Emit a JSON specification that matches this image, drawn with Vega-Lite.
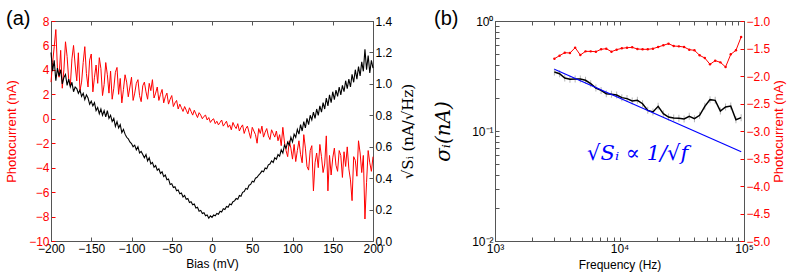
{
 "$schema": "https://vega.github.io/schema/vega-lite/v6.json",
 "padding": {"left": 5, "top": 8, "right": 5, "bottom": 5},
 "background": "white",
 "config": {
  "view": {"stroke": "#555", "strokeWidth": 1},
  "axis": {"grid": false, "labelFont": "Liberation Sans", "labelFontSize": 12, "labelColor": "#000", "titleFont": "Liberation Sans", "titleFontSize": 12, "titleFontWeight": "normal", "titleColor": "#000", "domainColor": "#555", "tickColor": "#555", "tickSize": -4, "labelPadding": 6, "titlePadding": 10, "labelFlush": false, "labelOverlap": false}
 },
 "spacing": 122,
 "bounds": "flush",
 "hconcat": [
  {
   "width": 322, "height": 220,
   "title": {"text": "(a)", "anchor": "start", "frame": "group", "fontSize": 20, "font": "Liberation Sans", "fontWeight": "normal", "dx": -45, "offset": -24, "baseline": "middle"},
   "data": {"values": [
{"b":-200,"p":3.0,"s":1.20},{"b":-198,"p":4.6,"s":1.08},{"b":-196,"p":5.9,"s":1.15},{"b":-194,"p":7.3,"s":1.02},{"b":-192,"p":4.1,"s":1.10},
{"b":-190,"p":3.4,"s":1.05},{"b":-188,"p":5.6,"s":1.09},{"b":-186,"p":2.5,"s":1.00},{"b":-184,"p":4.0,"s":1.04},{"b":-182,"p":6.3,"s":1.06},
{"b":-180,"p":5.1,"s":0.99},{"b":-178,"p":3.2,"s":1.03},{"b":-176,"p":2.7,"s":0.98},{"b":-174,"p":4.9,"s":1.01},{"b":-172,"p":6.0,"s":0.95},
{"b":-170,"p":4.4,"s":0.98},{"b":-168,"p":3.1,"s":0.97},{"b":-166,"p":5.4,"s":0.94},{"b":-164,"p":2.3,"s":0.96},{"b":-162,"p":3.0,"s":0.92},
{"b":-160,"p":4.6,"s":0.94},{"b":-158,"p":5.9,"s":0.90},{"b":-156,"p":3.7,"s":0.93},{"b":-154,"p":2.6,"s":0.91},{"b":-152,"p":4.8,"s":0.87},
{"b":-150,"p":5.3,"s":0.89},{"b":-148,"p":2.2,"s":0.86},{"b":-146,"p":3.4,"s":0.88},{"b":-144,"p":4.4,"s":0.83},{"b":-142,"p":2.9,"s":0.85},
{"b":-140,"p":5.0,"s":0.81},{"b":-138,"p":4.1,"s":0.84},{"b":-136,"p":1.9,"s":0.80},{"b":-134,"p":2.8,"s":0.83},{"b":-132,"p":4.6,"s":0.79},
{"b":-130,"p":3.6,"s":0.83},{"b":-128,"p":2.1,"s":0.78},{"b":-126,"p":3.9,"s":0.80},{"b":-124,"p":1.6,"s":0.76},{"b":-122,"p":2.5,"s":0.78},
{"b":-120,"p":3.8,"s":0.73},{"b":-118,"p":4.2,"s":0.76},{"b":-116,"p":2.0,"s":0.72},{"b":-114,"p":3.3,"s":0.74},{"b":-112,"p":1.3,"s":0.69},
{"b":-110,"p":2.4,"s":0.71},{"b":-108,"p":3.6,"s":0.68},{"b":-106,"p":3.0,"s":0.66},{"b":-104,"p":1.8,"s":0.65},{"b":-102,"p":2.6,"s":0.63},
{"b":-100,"p":3.4,"s":0.62},{"b":-98,"p":1.5,"s":0.60},{"b":-96,"p":2.1,"s":0.61},{"b":-94,"p":2.9,"s":0.58},{"b":-92,"p":3.2,"s":0.60},
{"b":-90,"p":1.9,"s":0.56},{"b":-88,"p":1.4,"s":0.57},{"b":-86,"p":2.7,"s":0.55},{"b":-84,"p":3.0,"s":0.53},{"b":-82,"p":2.2,"s":0.55},
{"b":-80,"p":1.6,"s":0.51},{"b":-78,"p":2.9,"s":0.53},{"b":-76,"p":2.3,"s":0.49},{"b":-74,"p":3.2,"s":0.50},{"b":-72,"p":1.7,"s":0.47},
{"b":-70,"p":2.1,"s":0.48},{"b":-68,"p":2.6,"s":0.45},{"b":-66,"p":1.5,"s":0.46},{"b":-64,"p":2.0,"s":0.43},{"b":-62,"p":2.4,"s":0.44},
{"b":-60,"p":1.3,"s":0.41},{"b":-58,"p":1.8,"s":0.42},{"b":-56,"p":2.1,"s":0.39},{"b":-54,"p":1.2,"s":0.395},{"b":-52,"p":1.6,"s":0.36},
{"b":-50,"p":1.9,"s":0.365},{"b":-48,"p":1.0,"s":0.34},{"b":-46,"p":1.3,"s":0.345},{"b":-44,"p":1.5,"s":0.32},{"b":-42,"p":0.8,"s":0.325},
{"b":-40,"p":1.2,"s":0.30},{"b":-38,"p":0.9,"s":0.305},{"b":-36,"p":0.6,"s":0.28},{"b":-34,"p":1.0,"s":0.29},{"b":-32,"p":0.7,"s":0.265},
{"b":-30,"p":0.4,"s":0.27},{"b":-28,"p":0.9,"s":0.245},{"b":-26,"p":0.6,"s":0.25},{"b":-24,"p":0.3,"s":0.23},{"b":-22,"p":0.7,"s":0.235},
{"b":-20,"p":0.4,"s":0.21},{"b":-18,"p":0.1,"s":0.215},{"b":-16,"p":0.5,"s":0.19},{"b":-14,"p":0.3,"s":0.195},{"b":-12,"p":0.0,"s":0.175},
{"b":-10,"p":0.2,"s":0.18},{"b":-8,"p":0.3,"s":0.16},{"b":-6,"p":-0.1,"s":0.165},{"b":-4,"p":0.1,"s":0.145},{"b":-2,"p":-0.3,"s":0.16},
{"b":0,"p":-0.1,"s":0.15},{"b":2,"p":0.0,"s":0.165},{"b":4,"p":-0.4,"s":0.16},{"b":6,"p":-0.2,"s":0.175},{"b":8,"p":-0.5,"s":0.17},
{"b":10,"p":-0.3,"s":0.19},{"b":12,"p":-0.1,"s":0.185},{"b":14,"p":-0.6,"s":0.205},{"b":16,"p":-0.4,"s":0.20},{"b":18,"p":-0.2,"s":0.22},
{"b":20,"p":-0.7,"s":0.215},{"b":22,"p":-0.5,"s":0.235},{"b":24,"p":-0.9,"s":0.23},{"b":26,"p":-0.3,"s":0.25},{"b":28,"p":-0.6,"s":0.255},
{"b":30,"p":-0.8,"s":0.27},{"b":32,"p":-0.4,"s":0.265},{"b":34,"p":-1.0,"s":0.29},{"b":36,"p":-0.7,"s":0.285},{"b":38,"p":-0.5,"s":0.31},
{"b":40,"p":-1.2,"s":0.315},{"b":42,"p":-0.8,"s":0.335},{"b":44,"p":-0.6,"s":0.33},{"b":46,"p":-1.1,"s":0.355},{"b":48,"p":-1.6,"s":0.36},
{"b":50,"p":-0.7,"s":0.38},{"b":52,"p":-1.0,"s":0.375},{"b":54,"p":-1.3,"s":0.40},{"b":56,"p":-2.0,"s":0.405},{"b":58,"p":-0.8,"s":0.42},
{"b":60,"p":-1.2,"s":0.43},{"b":62,"p":-0.6,"s":0.445},{"b":64,"p":-1.5,"s":0.44},{"b":66,"p":-1.1,"s":0.465},{"b":68,"p":-0.8,"s":0.46},
{"b":70,"p":-1.4,"s":0.485},{"b":72,"p":-1.7,"s":0.49},{"b":74,"p":-0.9,"s":0.51},{"b":76,"p":-1.2,"s":0.50},{"b":78,"p":-1.5,"s":0.53},
{"b":80,"p":-1.0,"s":0.52},{"b":82,"p":-1.8,"s":0.55},{"b":84,"p":-1.3,"s":0.54},{"b":86,"p":-2.2,"s":0.58},{"b":88,"p":-0.7,"s":0.56},
{"b":90,"p":-1.9,"s":0.61},{"b":92,"p":-2.6,"s":0.59},{"b":94,"p":-3.1,"s":0.63},{"b":96,"p":-1.8,"s":0.61},{"b":98,"p":-2.4,"s":0.66},
{"b":100,"p":-3.3,"s":0.63},{"b":102,"p":-2.1,"s":0.68},{"b":104,"p":-3.5,"s":0.66},{"b":106,"p":-2.6,"s":0.71},{"b":108,"p":-1.8,"s":0.68},
{"b":110,"p":-2.9,"s":0.74},{"b":112,"p":-3.6,"s":0.70},{"b":114,"p":-1.3,"s":0.76},{"b":116,"p":-2.4,"s":0.72},{"b":118,"p":-3.9,"s":0.78},
{"b":120,"p":-4.2,"s":0.74},{"b":122,"p":-2.6,"s":0.80},{"b":124,"p":-2.2,"s":0.77},{"b":126,"p":-5.9,"s":0.82},{"b":128,"p":-3.6,"s":0.78},
{"b":130,"p":-2.8,"s":0.84},{"b":132,"p":-4.0,"s":0.80},{"b":134,"p":-2.1,"s":0.86},{"b":136,"p":-3.1,"s":0.82},{"b":138,"p":-4.4,"s":0.88},
{"b":140,"p":-3.7,"s":0.84},{"b":142,"p":-1.4,"s":0.91},{"b":144,"p":-5.9,"s":0.86},{"b":146,"p":-3.0,"s":0.93},{"b":148,"p":-4.6,"s":0.88},
{"b":150,"p":-3.2,"s":0.95},{"b":152,"p":-2.4,"s":0.90},{"b":154,"p":-3.8,"s":0.96},{"b":156,"p":-4.3,"s":0.92},{"b":158,"p":-2.6,"s":0.98},
{"b":160,"p":-3.0,"s":0.93},{"b":162,"p":-4.8,"s":0.99},{"b":164,"p":-2.7,"s":0.95},{"b":166,"p":-3.9,"s":1.02},{"b":168,"p":-2.3,"s":0.97},
{"b":170,"p":-4.1,"s":1.03},{"b":172,"p":-5.0,"s":0.98},{"b":174,"p":-6.7,"s":1.06},{"b":176,"p":-3.1,"s":1.01},{"b":178,"p":-3.4,"s":1.09},
{"b":180,"p":-4.7,"s":1.03},{"b":182,"p":-1.8,"s":1.11},{"b":184,"p":-2.8,"s":1.05},{"b":186,"p":-4.4,"s":1.14},{"b":188,"p":-3.0,"s":1.08},
{"b":190,"p":-8.2,"s":1.22},{"b":192,"p":-5.2,"s":1.09},{"b":194,"p":-2.6,"s":1.18},{"b":196,"p":-3.6,"s":1.07},{"b":198,"p":-4.3,"s":1.15},
{"b":200,"p":-3.1,"s":1.10}
   ]},
   "resolve": {"scale": {"y": "independent"}, "axis": {"x": "independent"}},
   "layer": [
    {"mark": {"type": "line", "color": "#ff0000", "strokeWidth": 1},
     "encoding": {
      "x": {"field": "b", "type": "quantitative", "scale": {"domain": [-200, 200], "nice": false}, "axis": {"title": "Bias (mV)", "values": [-200,-150,-100,-50,0,50,100,150,200], "titlePadding": 4}},
      "y": {"field": "p", "type": "quantitative", "scale": {"domain": [-10, 8], "nice": false}, "axis": {"orient": "left", "title": "Photocurrent (nA)", "titleColor": "#ff0000", "labelColor": "#ff0000", "tickColor": "#ff0000", "values": [-10,-8,-6,-4,-2,0,2,4,6,8], "titleFontSize": 13}}
     }},
    {"mark": {"type": "line", "color": "#000000", "strokeWidth": 1.1},
     "encoding": {
      "x": {"field": "b", "type": "quantitative", "scale": {"domain": [-200, 200], "nice": false}, "axis": {"orient": "top", "labels": false, "title": null, "values": [-200,-150,-100,-50,0,50,100,150,200]}},
      "y": {"field": "s", "type": "quantitative", "scale": {"domain": [0, 1.4], "nice": false}, "axis": {"orient": "right", "title": "√Sᵢ (nA/√Hz)", "titleFont": "DejaVu Serif", "titleFontSize": 15, "titleAngle": 270, "titlePadding": 24, "values": [0,0.2,0.4,0.6,0.8,1.0,1.2,1.4], "format": ".1f"}}
     }}
   ]
  },
  {
   "width": 249, "height": 220,
   "title": {"text": "(b)", "anchor": "start", "frame": "group", "fontSize": 20, "font": "Liberation Sans", "fontWeight": "normal", "dx": -61, "offset": -24, "baseline": "middle"},
   "resolve": {"scale": {"y": "independent"}, "axis": {"x": "independent"}},
   "layer": [
    {"data": {"values": [
{"f":3000,"sig":0.344},{"f":3302,"sig":0.332},{"f":3634,"sig":0.303},{"f":4000,"sig":0.295},
{"f":4403,"sig":0.297},{"f":4846,"sig":0.297},{"f":5334,"sig":0.289},{"f":5871,"sig":0.269},
{"f":6462,"sig":0.246},{"f":7113,"sig":0.234},{"f":7829,"sig":0.2185},{"f":8617,"sig":0.2155},
{"f":9485,"sig":0.2125},{"f":10440,"sig":0.201},{"f":11491,"sig":0.197},{"f":12648,"sig":0.1874},
{"f":13921,"sig":0.190},{"f":15323,"sig":0.177},{"f":16866,"sig":0.154},{"f":18564,"sig":0.149},
{"f":20433,"sig":0.1676},{"f":22490,"sig":0.1438},{"f":24755,"sig":0.134},{"f":27247,"sig":0.1313},
{"f":29990,"sig":0.1304},{"f":33010,"sig":0.1286},{"f":36333,"sig":0.136},{"f":39991,"sig":0.1295},
{"f":44018,"sig":0.1388},{"f":48450,"sig":0.1676},{"f":53328,"sig":0.1927},{"f":58697,"sig":0.190},
{"f":64607,"sig":0.152},{"f":71112,"sig":0.1653},{"f":78271,"sig":0.1687},{"f":86152,"sig":0.1268},
{"f":94825,"sig":0.1322}
     ]},
     "layer": [
      {"mark": {"type": "tick", "orient": "vertical", "color": "#999999", "size": 7, "thickness": 1},
       "encoding": {
        "x": {"field": "f", "type": "quantitative", "scale": {"type": "log", "domain": [1000, 100000], "nice": false}},
        "y": {"field": "sig", "type": "quantitative", "scale": {"type": "log", "domain": [0.01, 1], "nice": false}}
       }},
      {"mark": {"type": "line", "color": "#000000", "strokeWidth": 1.5},
       "encoding": {
        "x": {"field": "f", "type": "quantitative", "scale": {"type": "log", "domain": [1000, 100000], "nice": false}, "axis": {"title": "Frequency (Hz)", "titlePadding": 5, "values": [1000,2000,3000,4000,5000,6000,7000,8000,9000,10000,20000,30000,40000,50000,60000,70000,80000,90000,100000], "labelExpr": "datum.value == 1000 ? '10³' : datum.value == 10000 ? '10⁴' : datum.value == 100000 ? '10⁵' : ''"}},
        "y": {"field": "sig", "type": "quantitative", "scale": {"type": "log", "domain": [0.01, 1], "nice": false}, "axis": {"orient": "left", "title": "σᵢ(nA)", "titleFont": "DejaVu Serif", "titleFontStyle": "italic", "titleFontSize": 20, "titlePadding": 18, "values": [0.01,0.02,0.03,0.04,0.05,0.06,0.07,0.08,0.09,0.1,0.2,0.3,0.4,0.5,0.6,0.7,0.8,0.9,1], "labelExpr": "datum.value == 0.01 ? '10⁻²' : datum.value == 0.1 ? '10⁻¹' : datum.value == 1 ? '10⁰' : ''"}}
       }},
      {"data": {"values": [{"f":3000,"sig":0.364},{"f":95000,"sig":0.0647}]},
       "mark": {"type": "line", "color": "#0000ff", "strokeWidth": 1.2},
       "encoding": {
        "x": {"field": "f", "type": "quantitative"},
        "y": {"field": "sig", "type": "quantitative"}
       }},
      {"data": {"values": [{"f":14000,"sig":0.062,"t":"√Sᵢ ∝ 1/√f"}]},
       "mark": {"type": "text", "color": "#0000ff", "font": "DejaVu Serif", "fontStyle": "italic", "fontSize": 21},
       "encoding": {
        "x": {"field": "f", "type": "quantitative"},
        "y": {"field": "sig", "type": "quantitative"},
        "text": {"field": "t"}
       }}
     ]},
    {"data": {"values": [
{"f":3000,"pc":-1.685},{"f":3302,"pc":-1.630},{"f":3634,"pc":-1.576},{"f":4000,"pc":-1.582},
{"f":4403,"pc":-1.485},{"f":4846,"pc":-1.618},{"f":5334,"pc":-1.552},{"f":5871,"pc":-1.552},
{"f":6462,"pc":-1.558},{"f":7113,"pc":-1.515},{"f":7829,"pc":-1.503},{"f":8617,"pc":-1.558},
{"f":9485,"pc":-1.521},{"f":10440,"pc":-1.497},{"f":11491,"pc":-1.485},{"f":12648,"pc":-1.479},
{"f":13921,"pc":-1.509},{"f":15323,"pc":-1.515},{"f":16866,"pc":-1.515},{"f":18564,"pc":-1.503},
{"f":20433,"pc":-1.473},{"f":22490,"pc":-1.442},{"f":24755,"pc":-1.412},{"f":27247,"pc":-1.455},
{"f":29990,"pc":-1.461},{"f":33010,"pc":-1.473},{"f":36333,"pc":-1.521},{"f":39991,"pc":-1.533},
{"f":44018,"pc":-1.624},{"f":48450,"pc":-1.673},{"f":53328,"pc":-1.788},{"f":58697,"pc":-1.721},
{"f":64607,"pc":-1.752},{"f":71112,"pc":-1.836},{"f":78271,"pc":-1.606},{"f":86152,"pc":-1.533},
{"f":94825,"pc":-1.291}
     ]},
     "mark": {"type": "line", "color": "#ff0000", "strokeWidth": 1, "point": {"filled": true, "size": 6, "color": "#ff0000"}},
     "encoding": {
      "x": {"field": "f", "type": "quantitative", "scale": {"type": "log", "domain": [1000, 100000], "nice": false}, "axis": {"orient": "top", "labels": false, "title": null, "values": [1000,2000,3000,4000,5000,6000,7000,8000,9000,10000,20000,30000,40000,50000,60000,70000,80000,90000,100000]}},
      "y": {"field": "pc", "type": "quantitative", "scale": {"domain": [-5, -1], "nice": false}, "axis": {"orient": "right", "title": "Photocurrent (nA)", "titleColor": "#ff0000", "labelColor": "#ff0000", "tickColor": "#ff0000", "titleAngle": 270, "titleFontSize": 13, "titlePadding": 16, "values": [-5,-4.5,-4,-3.5,-3,-2.5,-2,-1.5,-1], "format": ".1f"}}
     }}
   ]
  }
 ]
}
